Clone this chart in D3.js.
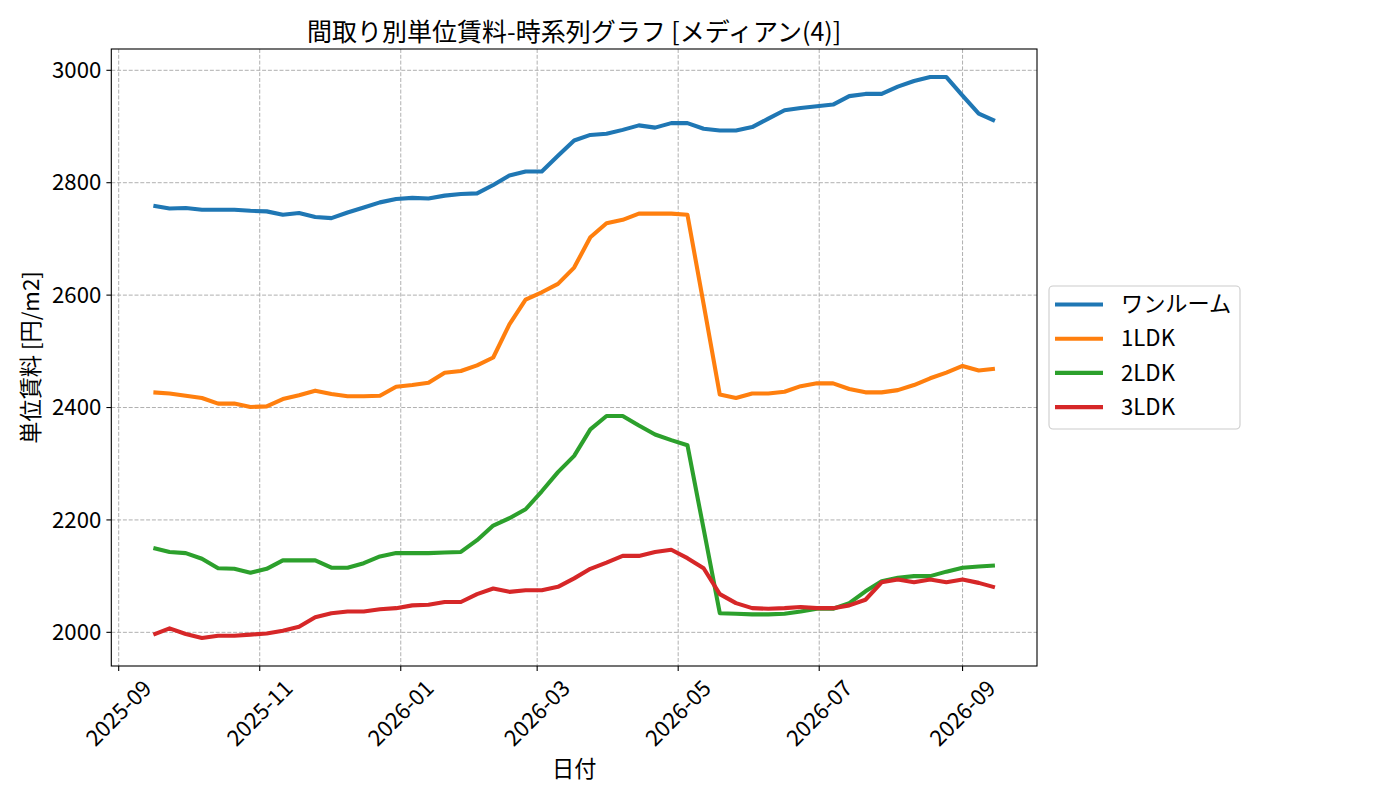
<!DOCTYPE html>
<html>
<head>
<meta charset="utf-8">
<script src="https://cdn.jsdelivr.net/npm/d3@7"></script>
<style>
  body { margin: 0; background: #fff; }
  svg { display: block; font-family: "Noto Sans CJK JP", "Noto Sans", sans-serif; }
</style>
</head>
<body>
<svg id="chart" width="1400" height="800"></svg>
<script>
// weekly dates
var dates = [
  '2025-09-16','2025-09-23','2025-09-30','2025-10-07','2025-10-14','2025-10-21','2025-10-28',
  '2025-11-04','2025-11-11','2025-11-18','2025-11-25','2025-12-02','2025-12-09','2025-12-16',
  '2025-12-23','2025-12-30','2026-01-06','2026-01-13','2026-01-20','2026-01-27','2026-02-03',
  '2026-02-10','2026-02-17','2026-02-24','2026-03-03','2026-03-10','2026-03-17','2026-03-24',
  '2026-03-31','2026-04-07','2026-04-14','2026-04-21','2026-04-28','2026-05-05','2026-05-12',
  '2026-05-19','2026-05-26','2026-06-02','2026-06-09','2026-06-16','2026-06-23','2026-06-30',
  '2026-07-07','2026-07-14','2026-07-21','2026-07-28','2026-08-04','2026-08-11','2026-08-18',
  '2026-08-25','2026-09-01','2026-09-08','2026-09-15'
];

var seriesNames = ['ワンルーム', '1LDK', '2LDK', '3LDK'];

var oneRoom = [
  2759, 2754, 2755, 2752, 2752, 2752, 2750, 2749, 2743, 2746, 2739, 2737, 2747, 2756, 2765, 2771, 2773,
  2772, 2777, 2780, 2781, 2796, 2813, 2820, 2820, 2848, 2875, 2885, 2887, 2894, 2902, 2898, 2906, 2906,
  2896, 2893, 2893, 2899, 2914, 2929, 2933, 2936, 2939, 2954, 2958, 2958, 2971, 2981, 2988, 2988, 2955,
  2923, 2910
];
var oneLDK = [
  2427, 2425, 2421, 2417, 2407, 2407, 2401, 2402, 2415, 2422, 2430, 2424, 2420, 2420, 2421, 2437, 2440,
  2444, 2462, 2465, 2475, 2489, 2548, 2592, 2605, 2620, 2649, 2703, 2728, 2734, 2745, 2745, 2745, 2743,
  2584, 2423, 2417, 2425, 2425, 2428, 2438, 2443, 2443, 2433, 2427, 2427, 2431, 2440, 2452, 2462, 2474,
  2466, 2469
];
var twoLDK = [
  2150, 2143, 2141, 2131, 2114, 2113, 2106, 2113, 2128, 2128, 2128, 2115, 2115, 2123, 2135, 2141, 2141,
  2141, 2142, 2143, 2164, 2190, 2203, 2219, 2251, 2285, 2314, 2361, 2385, 2385, 2368, 2352, 2342, 2333,
  2184, 2034, 2033, 2032, 2032, 2033, 2037, 2042, 2042, 2052, 2073, 2091, 2097, 2100, 2100, 2108, 2115,
  2117, 2119
];
var threeLDK = [
  1996, 2007, 1997, 1990, 1994, 1994, 1996, 1998, 2003, 2010, 2027, 2034, 2037, 2037, 2041, 2043, 2048,
  2049, 2054, 2054, 2068, 2078, 2072, 2075, 2075, 2081, 2096, 2113, 2124, 2136, 2136, 2143, 2147, 2132,
  2114, 2068, 2052, 2043, 2042, 2043, 2045, 2043, 2043, 2048, 2058, 2089, 2094, 2089, 2094, 2089, 2094,
  2088, 2080
];

var yTicks = [2000, 2200, 2400, 2600, 2800, 3000];
var xTickLabels = ['2025-09', '2025-11', '2026-01', '2026-03', '2026-05', '2026-07', '2026-09'];

var colors = ['#1f77b4', '#ff7f0e', '#2ca02c', '#d62728'];
var allSeries = [oneRoom, oneLDK, twoLDK, threeLDK];

var svg = d3.select('#chart');
var axLeft = 111.3, axRight = 1037, axTop = 49, axBottom = 666;
var baseFont = 22.2;

var parse = d3.utcParse('%Y-%m-%d');
var parseMonth = d3.utcParse('%Y-%m');
var xs = dates.map(parse);

/**
 * matplotlib style 5% margins
 */
var xMin = xs[0].getTime(), xMax = xs[xs.length - 1].getTime();
var xPad = (xMax - xMin) * 0.05;
var x = d3.scaleUtc().domain([new Date(xMin - xPad), new Date(xMax + xPad)]).range([axLeft, axRight]);

var allVals = [].concat(oneRoom, oneLDK, twoLDK, threeLDK);
var yMin = d3.min(allVals), yMax = d3.max(allVals);
var yPad = (yMax - yMin) * 0.05;
var y = d3.scaleLinear().domain([yMin - yPad, yMax + yPad]).range([axBottom, axTop]);

var xTickDates = xTickLabels.map(parseMonth);

// grid
var grid = svg.append('g');
xTickDates.forEach(function(d) {
  grid.append('line')
    .attr('x1', x(d)).attr('x2', x(d)).attr('y1', axTop).attr('y2', axBottom)
    .attr('stroke', '#b0b0b0').attr('stroke-width', 1).attr('stroke-dasharray', '4,1.8');
});
yTicks.forEach(function(v) {
  grid.append('line')
    .attr('x1', axLeft).attr('x2', axRight).attr('y1', y(v)).attr('y2', y(v))
    .attr('stroke', '#b0b0b0').attr('stroke-width', 1).attr('stroke-dasharray', '4,1.8');
});

// lines
var line = d3.line()
  .x(function(d, i) { return x(xs[i]); })
  .y(function(d) { return y(d); });

var plot = svg.append('g');
allSeries.forEach(function(s, k) {
  plot.append('path')
    .datum(s)
    .attr('fill', 'none')
    .attr('stroke', colors[k])
    .attr('stroke-width', 4.1)
    .attr('stroke-linejoin', 'round')
    .attr('stroke-linecap', 'butt')
    .attr('d', line);
});

// frame
svg.append('rect')
  .attr('x', axLeft).attr('y', axTop).attr('width', axRight - axLeft).attr('height', axBottom - axTop)
  .attr('fill', 'none').attr('stroke', '#000').attr('stroke-width', 1.1);

// y axis
var yAxis = svg.append('g');
yTicks.forEach(function(v) {
  yAxis.append('line')
    .attr('x1', axLeft - 4.9).attr('x2', axLeft).attr('y1', y(v)).attr('y2', y(v))
    .attr('stroke', '#000').attr('stroke-width', 1.1);
  yAxis.append('text')
    .attr('x', axLeft - 10).attr('y', y(v)).attr('dy', '0.35em')
    .attr('text-anchor', 'end').attr('font-size', baseFont).attr('fill', '#000')
    .text(v);
});

// x axis
var xAxis = svg.append('g');
xTickDates.forEach(function(d, i) {
  var tx = x(d);
  xAxis.append('line')
    .attr('x1', tx).attr('x2', tx).attr('y1', axBottom).attr('y2', axBottom + 4.9)
    .attr('stroke', '#000').attr('stroke-width', 1.1);
  var t = xAxis.append('text')
    .attr('text-anchor', 'end').attr('font-size', baseFont).attr('fill', '#000')
    .attr('dy', '0.35em')
    .text(xTickLabels[i]);
  var w = t.node().getComputedTextLength();
  var h = 26;
  var px = tx + 0.354 * w;
  var py = axBottom + 9 + 0.354 * h;
  t.attr('transform', 'translate(' + px + ',' + py + ') rotate(-45)');
});

// labels
svg.append('text')
  .attr('x', (axLeft + axRight) / 2).attr('y', 41)
  .attr('text-anchor', 'middle').attr('font-size', 25).attr('fill', '#000')
  .text('間取り別単位賃料-時系列グラフ [メディアン(4)]');

svg.append('text')
  .attr('x', (axLeft + axRight) / 2).attr('y', 777)
  .attr('text-anchor', 'middle').attr('font-size', baseFont).attr('fill', '#000')
  .text('日付');

svg.append('text')
  .attr('transform', 'translate(39,' + ((axTop + axBottom) / 2) + ') rotate(-90)')
  .attr('text-anchor', 'middle').attr('font-size', baseFont).attr('fill', '#000')
  .text('単位賃料 [円/m2]');

// legend
var legend = svg.append('g');
legend.append('rect')
  .attr('x', 1049).attr('y', 286).attr('width', 191).attr('height', 143)
  .attr('rx', 4).attr('ry', 4)
  .attr('fill', '#fff').attr('fill-opacity', 0.8)
  .attr('stroke', '#cccccc').attr('stroke-width', 1.1);

seriesNames.forEach(function(name, k) {
  var ly = 304.5 + k * 34.2;
  legend.append('line')
    .attr('x1', 1055).attr('x2', 1103).attr('y1', ly).attr('y2', ly)
    .attr('stroke', colors[k]).attr('stroke-width', 4.1);
  legend.append('text')
    .attr('x', 1121).attr('y', ly).attr('dy', '0.35em')
    .attr('font-size', baseFont).attr('fill', '#000')
    .text(name);
});
</script>
</body>
</html>
